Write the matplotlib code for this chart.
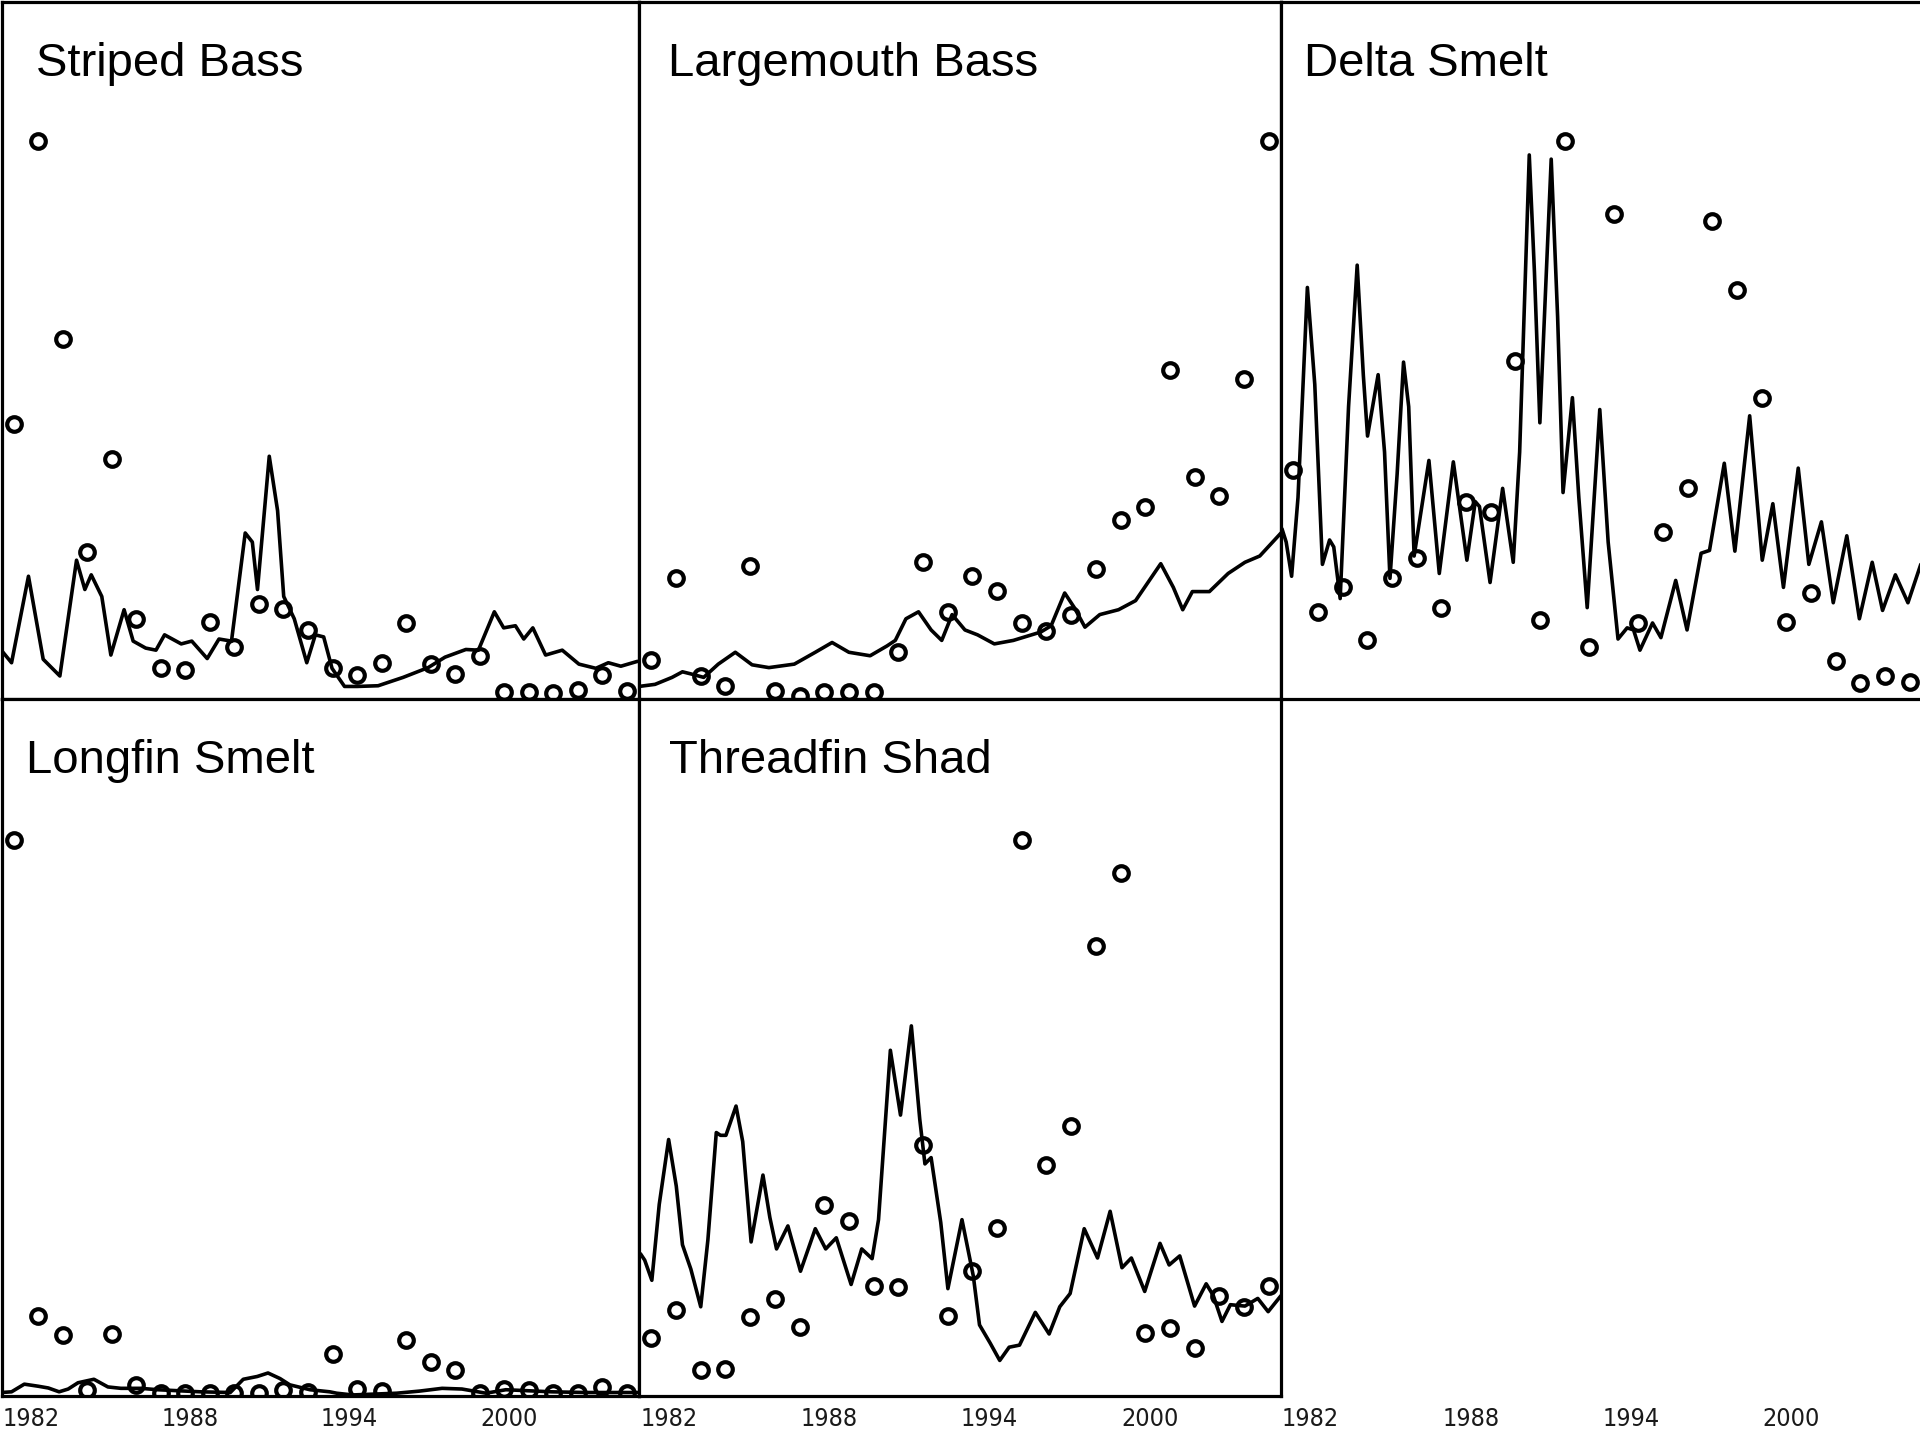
import matplotlib
matplotlib.use("Agg")
import matplotlib.pyplot as plt
from matplotlib import font_manager

# ---------------- data ----------------
YEARS = list(range(1980, 2006))
TICK_LABELS = ["1982", "1988", "1994", "2000"]
TICK_POS = [1980.7, 1987.2, 1993.7, 2000.2]

STRIPED_BASS_OBS = [39.4, 80.0, 51.6, 21.1, 34.4, 11.5, 4.5, 4.1, 11.0, 7.4, 13.6, 12.9, 9.9,
                    4.4, 3.4, 5.2, 10.9, 5.0, 3.6, 6.2, 1.0, 1.0, 0.8, 1.3, 3.4, 1.2]
STRIPED_BASS_FIT_T = [1979.49, 1979.91, 1980.6, 1981.2, 1981.88, 1982.56, 1982.9, 1983.16, 1983.59,
                      1983.96, 1984.5, 1984.87, 1985.38, 1985.8, 1986.15, 1986.83, 1987.26, 1987.89,
                      1988.37, 1988.88, 1989.44, 1989.73, 1989.94, 1990.42, 1990.76, 1991.01,
                      1991.44, 1991.95, 1992.3, 1992.64, 1992.98, 1993.49, 1994.0, 1994.86, 1995.88,
                      1996.9, 1997.59, 1998.44, 1998.95, 1999.6, 1999.98, 2000.46, 2000.8, 2001.17,
                      2001.69, 2002.37, 2003.05, 2003.74, 2004.25, 2004.76, 2005.44]
STRIPED_BASS_FIT_Y = [7.0, 5.2, 17.6, 5.7, 3.3, 19.9, 15.7, 17.8, 14.7, 6.3, 12.8, 8.3, 7.3, 7.0,
                      9.2, 7.9, 8.3, 5.8, 8.6, 8.3, 23.8, 22.5, 15.7, 34.8, 27.0, 14.7, 11.5, 5.2,
                      9.2, 8.9, 4.4, 1.8, 1.8, 1.9, 3.1, 4.5, 6.0, 7.1, 7.0, 12.5, 10.2, 10.5, 8.6,
                      10.2, 6.3, 7.0, 5.0, 4.4, 5.2, 4.7, 5.4]

LARGEMOUTH_BASS_OBS = [5.6, 17.4, 3.3, 1.8, 19.1, 1.2, 0.5, 1.0, 1.0, 1.0, 6.8, 19.6, 12.5,
                       17.6, 15.5, 10.9, 9.7, 12.0, 18.6, 25.7, 27.5, 47.2, 31.8, 29.1, 45.9, 80.0]
LARGEMOUTH_BASS_FIT_T = [1979.5, 1980.15, 1980.84, 1981.26, 1981.6, 1982.12, 1982.71, 1983.4,
                         1984.08, 1984.76, 1985.79, 1986.64, 1987.32, 1988.0, 1988.86, 1989.54,
                         1989.88, 1990.31, 1990.82, 1991.33, 1991.76, 1992.18, 1992.7, 1993.21,
                         1993.89, 1994.66, 1995.77, 1996.19, 1996.74, 1997.13, 1997.56, 1998.16,
                         1998.92, 1999.61, 2000.63, 2001.14, 2001.52, 2001.91, 2002.6, 2003.36,
                         2004.04, 2004.64, 2005.5]
LARGEMOUTH_BASS_FIT_Y = [1.8, 2.1, 3.1, 3.9, 3.6, 3.1, 5.0, 6.7, 4.9, 4.5, 5.0, 6.7, 8.1, 6.7,
                         6.2, 7.6, 8.4, 11.5, 12.5, 9.9, 8.4, 12.1, 9.9, 9.2, 7.9, 8.4, 9.6, 10.5,
                         15.2, 13.1, 10.3, 12.1, 12.8, 14.1, 19.4, 16.0, 12.8, 15.4, 15.4, 18.0,
                         19.6, 20.5, 23.8]

DELTA_SMELT_OBS = [32.8, 12.5, 16.0, 8.4, 17.4, 20.2, 13.1, 28.2, 26.8, 48.5, 11.3, 80.0, 7.5,
                   69.6, 10.9, 23.9, 30.2, 68.5, 58.7, 43.2, 11.0, 15.2, 5.4, 2.3, 3.3, 2.5]
DELTA_SMELT_FIT_T = [1979.54, 1979.71, 1979.93, 1980.19, 1980.57, 1980.87, 1981.18, 1981.47,
                     1981.64, 1981.9, 1982.24, 1982.59, 1982.84, 1983.01, 1983.44, 1983.7,
                     1983.92, 1984.21, 1984.47, 1984.68, 1984.9, 1985.5, 1985.92, 1986.49,
                     1987.04, 1987.38, 1987.55, 1987.98, 1988.49, 1988.92, 1989.18, 1989.57,
                     1989.78, 1990.0, 1990.46, 1990.72, 1990.94, 1991.32, 1991.58, 1991.92,
                     1992.43, 1992.77, 1993.17, 1993.54, 1993.8, 1994.06, 1994.57, 1994.91,
                     1995.51, 1995.97, 1996.54, 1996.88, 1997.48, 1997.91, 1998.51, 1999.02,
                     1999.45, 1999.88, 2000.48, 2000.91, 2001.42, 2001.9, 2002.45, 2002.96,
                     2003.48, 2003.9, 2004.42, 2004.93, 2005.45]
DELTA_SMELT_FIT_Y = [24.4, 22.5, 17.6, 28.9, 59.0, 45.1, 19.3, 22.8, 21.8, 14.4, 41.9, 62.2, 46.4,
                     37.7, 46.5, 35.4, 17.3, 32.2, 48.3, 41.9, 20.5, 34.2, 18.0, 34.0, 19.9, 28.3,
                     27.6, 16.7, 30.2, 19.6, 35.4, 78.0, 61.2, 39.6, 77.4, 54.8, 29.6, 43.2, 28.9,
                     13.1, 41.5, 22.5, 8.6, 10.2, 9.9, 7.0, 10.9, 8.8, 17.0, 9.9, 20.9, 21.3, 33.8,
                     21.2, 40.6, 19.9, 28.0, 16.0, 33.1, 19.3, 25.4, 13.8, 23.4, 11.5, 19.6, 12.7,
                     17.8, 13.8, 19.3]

LONGFIN_SMELT_OBS = [79.8, 11.5, 8.8, 0.9, 8.9, 1.6, 0.5, 0.4, 0.5, 0.4, 0.4, 0.9, 0.6, 6.0,
                     1.0, 0.7, 8.1, 4.9, 3.8, 0.4, 1.0, 0.8, 0.5, 0.4, 1.3, 0.4]
LONGFIN_SMELT_FIT_T = [1979.5, 1979.91, 1980.43, 1981.0, 1981.41, 1981.85, 1982.22, 1982.62,
                       1983.27, 1983.84, 1984.37, 1985.18, 1985.87, 1987.61, 1988.83, 1989.36,
                       1989.93, 1990.37, 1990.86, 1991.26, 1992.08, 1992.89, 1993.17, 1993.82,
                       1995.61, 1996.54, 1997.47, 1998.28, 1999.26, 2000.07, 2001.93, 2003.31,
                       2005.45]
LONGFIN_SMELT_FIT_Y = [0.5, 0.6, 1.7, 1.4, 1.15, 0.6, 1.0, 1.9, 2.4, 1.3, 1.1, 1.1, 0.9, 0.6,
                       0.5, 2.4, 2.8, 3.3, 2.5, 1.6, 0.9, 0.6, 0.4, 0.15, 0.4, 0.7, 1.1, 1.0, 0.4,
                       0.9, 0.6, 0.5, 0.5]

THREADFIN_SHAD_OBS = [8.3, 12.4, 3.8, 3.9, 11.3, 13.9, 9.9, 27.4, 25.1, 15.8, 15.6, 36.0, 11.5,
                      17.9, 24.1, 79.7, 33.1, 38.7, 64.6, 75.1, 9.0, 9.7, 6.9, 14.4, 12.8, 15.8]
THREADFIN_SHAD_FIT_T = [1979.56, 1979.73, 1980.02, 1980.32, 1980.7, 1981.01, 1981.26, 1981.6,
                        1982.0, 1982.29, 1982.63, 1982.8, 1983.02, 1983.43, 1983.7, 1984.04,
                        1984.52, 1984.8, 1985.07, 1985.53, 1986.04, 1986.64, 1987.06, 1987.49,
                        1988.09, 1988.52, 1988.94, 1989.2, 1989.68, 1990.09, 1990.53, 1990.87,
                        1991.08, 1991.33, 1991.72, 1992.01, 1992.58, 1993.04, 1993.29, 1993.72,
                        1994.11, 1994.49, 1994.91, 1995.55, 1996.11, 1996.54, 1996.96, 1997.53,
                        1998.07, 1998.58, 1999.06, 1999.44, 1999.98, 2000.6, 2000.97, 2001.4,
                        2002.0, 2002.47, 2002.76, 2003.11, 2003.45, 2004.04, 2004.56, 2004.98,
                        2005.5]
THREADFIN_SHAD_FIT_Y = [20.4, 19.5, 16.6, 27.5, 36.8, 30.1, 21.7, 18.2, 12.8, 22.4, 37.8, 37.4,
                        37.4, 41.6, 36.5, 22.1, 31.7, 25.6, 21.1, 24.4, 17.9, 24.0, 21.1, 22.7,
                        16.0, 21.1, 19.7, 25.3, 49.6, 40.3, 53.1, 39.7, 33.3, 34.2, 24.9, 15.4,
                        25.3, 17.2, 10.2, 7.6, 5.1, 7.0, 7.3, 12.0, 8.9, 12.8, 14.7, 24.0, 19.8,
                        26.5, 18.4, 19.8, 15.0, 21.9, 18.8, 20.1, 12.9, 16.1, 14.4, 10.7, 13.1,
                        12.9, 14.0, 12.1, 14.4]

SPECIES = ["Striped Bass", "Largemouth Bass", "Delta Smelt", "Longfin Smelt", "Threadfin Shad"]

# ---------------- fonts ----------------
def pick_tick_font():
    names = {f.name for f in font_manager.fontManager.ttflist}
    if "Liberation Sans Narrow" in names:
        return dict(family="Liberation Sans Narrow")
    for f in font_manager.fontManager.ttflist:
        if "Condensed" in f.fname and "DejaVuSans" in f.fname.replace(" ", "") \
                and "Bold" not in f.fname and "Oblique" not in f.fname:
            return dict(fname=f.fname)
    return dict(family="Liberation Sans")


_tf = pick_tick_font()
if "fname" in _tf:
    TICK_PROP = font_manager.FontProperties(fname=_tf["fname"], size=18)
else:
    TICK_PROP = font_manager.FontProperties(family=_tf["family"], size=18)

# ---------------- layout / style ----------------
W, H = 1920, 1440
fig = plt.figure(figsize=(W / 100, H / 100), dpi=100)

col_edges = [1.5, 639, 1281, 1922]
row_edges = [1.5, 699, 1396]   # pixels from top


def make_ax(r, c):
    x0, x1 = col_edges[c], col_edges[c + 1]
    y0, y1 = row_edges[r], row_edges[r + 1]
    return fig.add_axes([x0 / W, 1 - y1 / H, (x1 - x0) / W, (y1 - y0) / H])


panels = [
    (0, 0, STRIPED_BASS_OBS, STRIPED_BASS_FIT_T, STRIPED_BASS_FIT_Y, SPECIES[0]),
    (0, 1, LARGEMOUTH_BASS_OBS, LARGEMOUTH_BASS_FIT_T, LARGEMOUTH_BASS_FIT_Y, SPECIES[1]),
    (0, 2, DELTA_SMELT_OBS, DELTA_SMELT_FIT_T, DELTA_SMELT_FIT_Y, SPECIES[2]),
    (1, 0, LONGFIN_SMELT_OBS, LONGFIN_SMELT_FIT_T, LONGFIN_SMELT_FIT_Y, SPECIES[3]),
    (1, 1, THREADFIN_SHAD_OBS, THREADFIN_SHAD_FIT_T, THREADFIN_SHAD_FIT_Y, SPECIES[4]),
]

title_offsets = {(0, 0): 35, (0, 1): 29, (0, 2): 23, (1, 0): 25, (1, 1): 30}


def style_axis(ax, show_labels):
    ax.set_xlim(1979.5, 2005.5)
    ax.set_ylim(0, 100)
    ax.set_yticks([])
    ax.set_xticks(TICK_POS)
    if show_labels:
        ax.set_xticklabels(TICK_LABELS)
        for lab in ax.get_xticklabels():
            lab.set_fontproperties(TICK_PROP)
            lab.set_color("#1a1a1a")
    else:
        ax.set_xticklabels([])
    ax.tick_params(axis="x", length=0, pad=8)


for r, c, obs, ft, fy, name in panels:
    ax = make_ax(r, c)
    ax.plot(ft, fy, color="black", lw=2.6, solid_joinstyle="round",
            solid_capstyle="round", zorder=2)
    ax.plot(YEARS, obs, linestyle="none", marker="o", markersize=10.5,
            markerfacecolor="none", markeredgecolor="black", markeredgewidth=3.0, zorder=3)
    for s in ax.spines.values():
        s.set_linewidth(2.3)
        s.set_color("black")
    style_axis(ax, show_labels=(r == 1))
    off = matplotlib.transforms.offset_copy(ax.transAxes, fig=fig,
                                            x=title_offsets[(r, c)], y=-74, units="dots")
    ax.text(0, 1, name, transform=off, fontsize=34, family=["Liberation Sans", "DejaVu Sans"],
            ha="left", va="baseline", color="black")

# empty bottom-right cell: only the year labels
ax_e = make_ax(1, 2)
for s in ax_e.spines.values():
    s.set_visible(False)
ax_e.patch.set_visible(False)
style_axis(ax_e, show_labels=True)

fig.savefig("out.png", dpi=100, facecolor="white")
